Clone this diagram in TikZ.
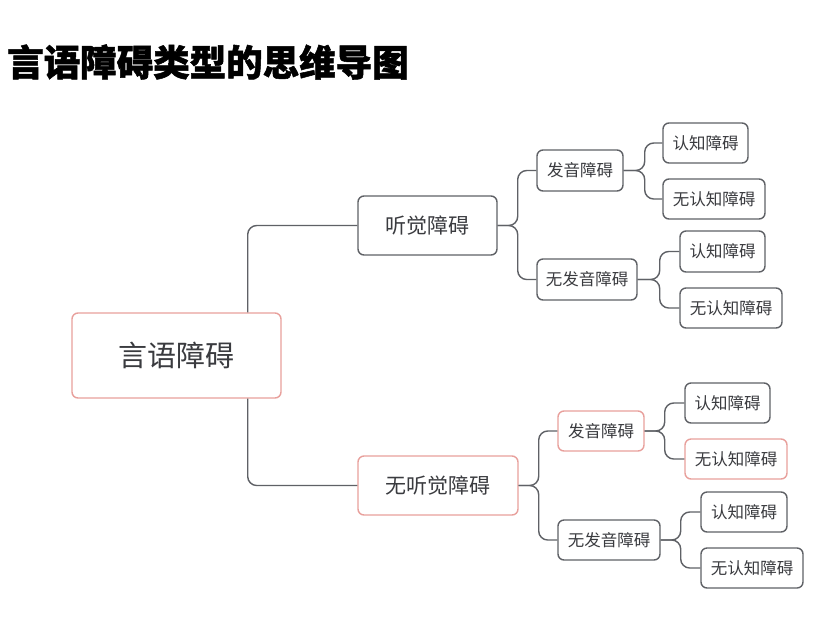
\documentclass[tikz,border=0pt]{standalone}
\usepackage{fontspec}
\newfontfamily\cjk{Noto Sans CJK SC}
\newfontfamily\titlefont[BoldFeatures={FakeBold=1.4}]{Noto Sans CJK SC}
\definecolor{linec}{HTML}{5F6166}
\definecolor{textc}{HTML}{3A3B3F}
\definecolor{pinkc}{HTML}{E8A09C}
\tikzset{
  box/.style={draw=linec, line width=1.4pt, rounded corners=6pt, fill=white,
    text=textc, inner sep=0pt, align=center},
  pinkbox/.style={box, draw=pinkc},
  conn/.style={draw=linec, line width=1.4pt, rounded corners=9pt},
  small/.style={font=\cjk\fontsize{16.5}{18}\selectfont},
}
\begin{document}
\begin{tikzpicture}[x=1pt,y=-1pt]
\useasboundingbox[fill=white] (0,0) rectangle (835,625);
\node[anchor=west, inner sep=0pt, text=black, font=\titlefont\bfseries\fontsize{36.5}{40}\selectfont] (title) at (7,62) {言语障碍类型的思维导图};

\node[pinkbox, minimum width=209pt, minimum height=85pt, font=\cjk\fontsize{29}{32}\selectfont] (root) at (176.5,355.5) {言语障碍};
\node[box, minimum width=139pt, minimum height=59pt, font=\cjk\fontsize{21}{24}\selectfont] (hear) at (427.5,225.5) {听觉障碍};
\node[pinkbox, minimum width=160pt, minimum height=59pt, font=\cjk\fontsize{21}{24}\selectfont] (nohear) at (438,485.5) {无听觉障碍};

\node[box, small, minimum width=86pt, minimum height=41pt] (a1) at (580,170.5) {发音障碍};
\node[box, small, minimum width=100pt, minimum height=41pt] (a2) at (587,279.5) {无发音障碍};
\node[box, small, minimum width=85pt, minimum height=40pt] (l11) at (705.5,143) {认知障碍};
\node[box, small, minimum width=102pt, minimum height=40pt] (l12) at (714,199) {无认知障碍};
\node[box, small, minimum width=85pt, minimum height=41pt] (l21) at (722.5,251.5) {认知障碍};
\node[box, small, minimum width=102pt, minimum height=40pt] (l22) at (731,308) {无认知障碍};

\node[pinkbox, small, minimum width=86pt, minimum height=40pt] (b1) at (601,431) {发音障碍};
\node[box, small, minimum width=102pt, minimum height=40pt] (b2) at (609,540) {无发音障碍};
\node[box, small, minimum width=85pt, minimum height=40pt] (m11) at (727.5,403) {认知障碍};
\node[pinkbox, small, minimum width=102pt, minimum height=40pt] (m12) at (736,459) {无认知障碍};
\node[box, small, minimum width=86pt, minimum height=40pt] (m21) at (744,512) {认知障碍};
\node[box, small, minimum width=102pt, minimum height=40pt] (m22) at (752,568) {无认知障碍};

\draw[conn] ([xshift=-34pt]root.north east) |- (hear.west);
\draw[conn] ([xshift=-34pt]root.south east) |- (nohear.west);

\draw[conn] (hear.east) -- ++(20,0) |- (a1.west);
\draw[conn] (hear.east) -- ++(20,0) |- (a2.west);
\draw[conn] (nohear.east) -- ++(20,0) |- (b1.west);
\draw[conn] (nohear.east) -- ++(20,0) |- (b2.west);

\draw[conn] (a1.east) -- ++(21,0) |- (l11.west);
\draw[conn] (a1.east) -- ++(21,0) |- (l12.west);
\draw[conn] (a2.east) -- ++(22,0) |- (l21.west);
\draw[conn] (a2.east) -- ++(22,0) |- (l22.west);
\draw[conn] (b1.east) -- ++(20,0) |- (m11.west);
\draw[conn] (b1.east) -- ++(20,0) |- (m12.west);
\draw[conn] (b2.east) -- ++(20,0) |- (m21.west);
\draw[conn] (b2.east) -- ++(20,0) |- (m22.west);
\end{tikzpicture}
\end{document}
